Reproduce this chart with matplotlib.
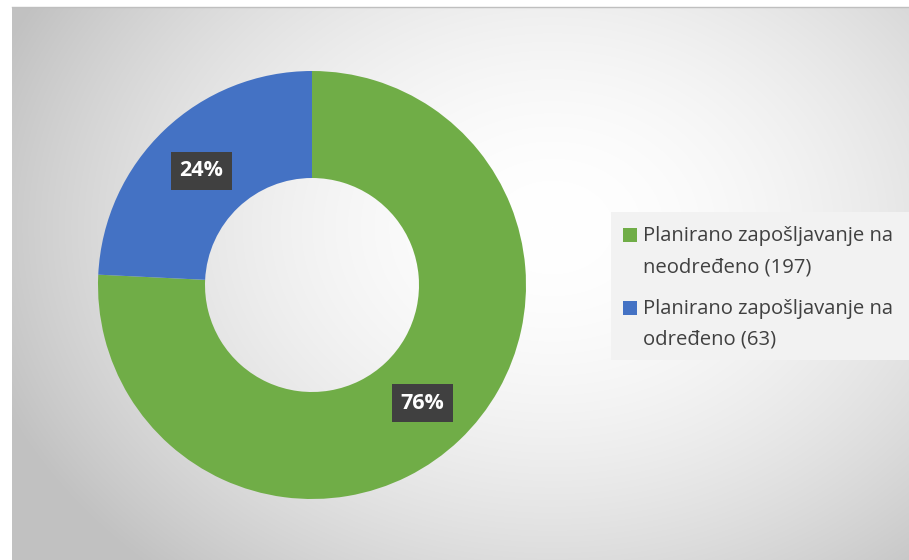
import numpy as np
import matplotlib
matplotlib.use("Agg")
import matplotlib.pyplot as plt
from matplotlib.patches import Rectangle

categories = ["Planirano zapošljavanje na\nneodređeno (197)",
              "Planirano zapošljavanje na\nodređeno (63)"]
counts = [197, 63]
pct_labels = ["76%", "24%"]
colors = ["#70ad47", "#4472c4"]

W, H = 909, 560
fig = plt.figure(figsize=(W / 100, H / 100), dpi=100)
fig.patch.set_facecolor("white")

# background panel with radial gradient
bg = fig.add_axes([12 / W, 0, 1 - 12 / W, 1 - 7 / H])
yy, xx = np.mgrid[0:553, 0:897]
cx, cy = 540, 220
r = np.sqrt(((xx - cx) / 620.0) ** 2 + ((yy - cy) / 480.0) ** 2)
g = np.clip(1.0 - 0.26 * r ** 1.8, 0.76, 1.0)
bg.imshow(np.dstack([g, g, g]), aspect="auto", extent=[0, 1, 0, 1], origin="upper")
bg.set_axis_off()
fig.add_artist(plt.Line2D([12 / W, 1], [1 - 7 / H, 1 - 7 / H], color="#bfbfbf", lw=1.0,
                          transform=fig.transFigure))

# donut
cxp, cyp, R = 312, 285, 214
ax = fig.add_axes([(cxp - R) / W, (H - cyp - R) / H, 2 * R / W, 2 * R / H])
ax.set_facecolor("none")
wedges, _ = ax.pie(counts, colors=colors, startangle=90, counterclock=False,
                   radius=1.0, wedgeprops=dict(width=0.5, edgecolor="white", linewidth=0))
ax.set_xlim(-1, 1); ax.set_ylim(-1, 1)
ax.set_aspect("equal")

# data labels in dark boxes
angles = []
start = 90.0
tot = sum(counts)
for c in counts:
    sweep = 360.0 * c / tot
    angles.append(np.deg2rad(start - sweep / 2))
    start -= sweep
for a, lab in zip(angles, pct_labels):
    x, y = 0.75 * np.cos(a), 0.75 * np.sin(a)
    ax.text(x, y - 0.01, lab, ha="center", va="center", color="white", fontsize=15.5,
            fontweight="bold", family=["Open Sans", "DejaVu Sans"],
            bbox=dict(boxstyle="square,pad=0.4", facecolor="#404040", edgecolor="none"))

# legend
fig.add_artist(Rectangle((611 / W, 1 - 360 / H), (W - 611) / W, 148 / H,
                         transform=fig.transFigure, facecolor="#f2f2f2", edgecolor="none"))
for i, (lab, col) in enumerate(zip(categories, colors)):
    base = 242 + i * 73
    fig.add_artist(Rectangle((623 / W, 1 - base / H), 14 / W, 14 / H,
                             transform=fig.transFigure, facecolor=col, edgecolor="none"))
    fig.text(643 / W, 1 - (base + 30) / H, lab, ha="left", va="baseline", fontsize=14.6,
             color="#404040", family=["Open Sans", "DejaVu Sans"], linespacing=1.72)

fig.savefig("out.png", dpi=100)
